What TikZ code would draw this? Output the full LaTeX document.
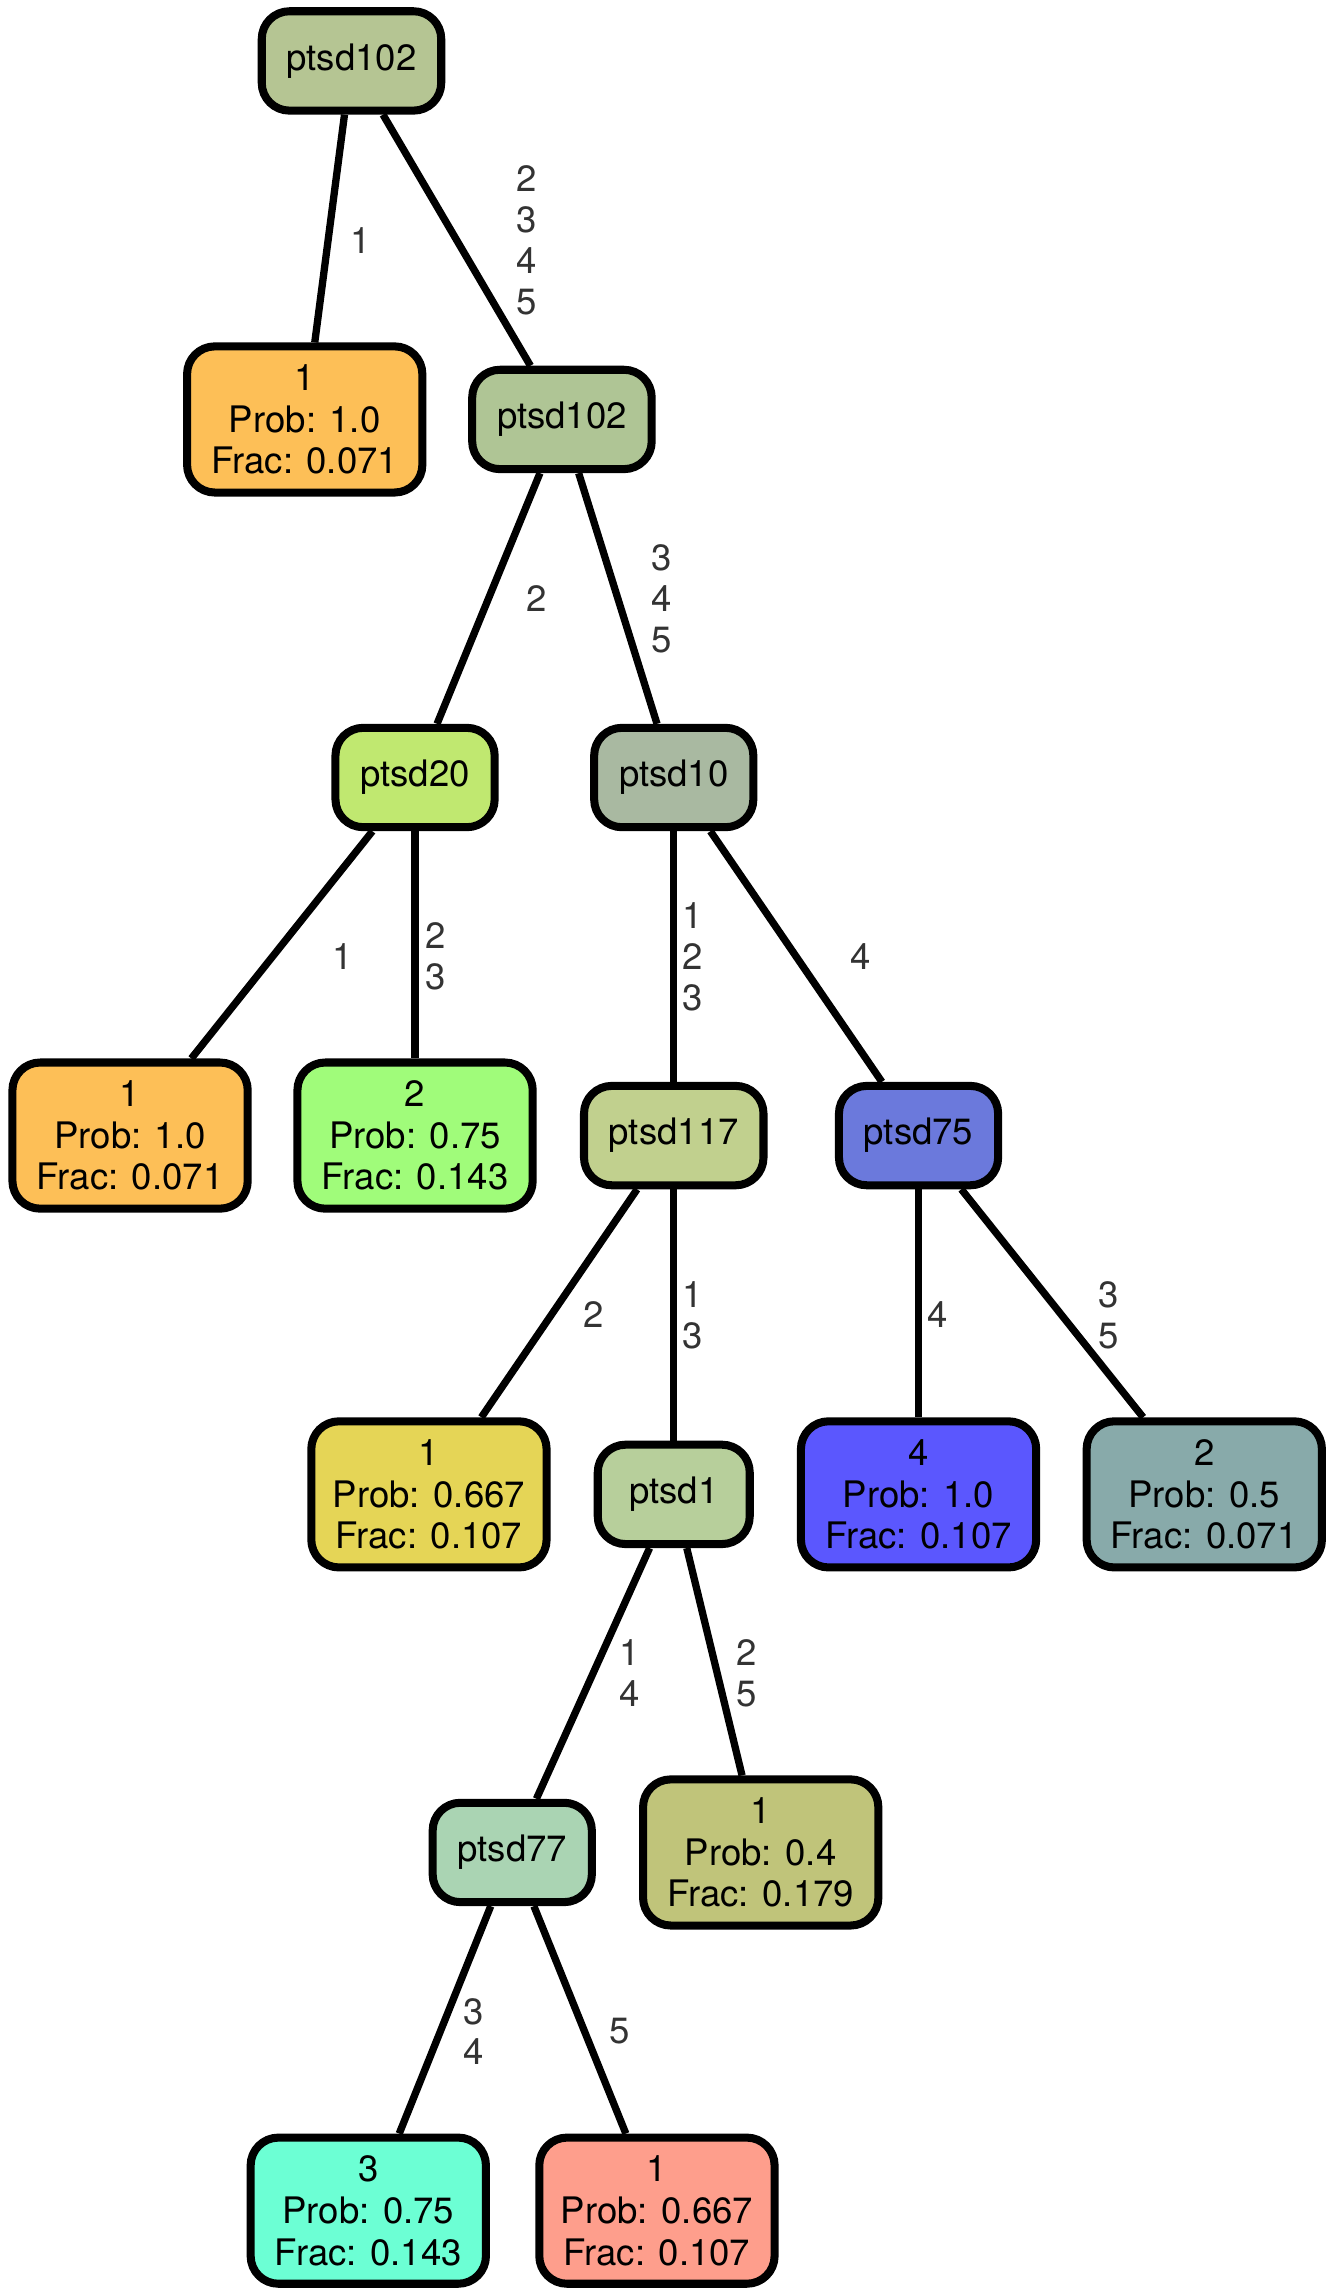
\documentclass[tikz,border=0pt]{standalone}
\usepackage{fontspec}
\setmainfont{TeX Gyre Heros}
\usepackage{tikz}
\usetikzlibrary{calc}
\usepackage{xcolor}
\definecolor{tree-root}{HTML}{b5c593}
\definecolor{tree-p102}{HTML}{afc595}
\definecolor{tree-p20}{HTML}{c0e870}
\definecolor{tree-p10}{HTML}{a9b9a1}
\definecolor{tree-p117}{HTML}{c1d08e}
\definecolor{tree-p75}{HTML}{6b79dc}
\definecolor{tree-p1}{HTML}{b7cf9b}
\definecolor{tree-p77}{HTML}{aad4b3}
\definecolor{leaf-orange}{HTML}{fdbf57}
\definecolor{leaf-green}{HTML}{a0fc7a}
\definecolor{leaf-yellow}{HTML}{e5d556}
\definecolor{leaf-blue}{HTML}{5b57fe}
\definecolor{leaf-teal}{HTML}{88aaaa}
\definecolor{leaf-olive}{HTML}{c0c47a}
\definecolor{leaf-cyan}{HTML}{6cffd4}
\definecolor{leaf-salmon}{HTML}{fe9e8c}
\definecolor{label-grey}{HTML}{333333}

\begin{document}
\begin{tikzpicture}[x=1pt, y=1pt, line join=round]
  \tikzstyle{split}=[draw, line width=5.5pt, rounded corners=19pt, minimum width=104pt, minimum height=68pt, inner xsep=17pt, font=\fontsize{25}{28.5}\selectfont]
  \tikzstyle{leaf}=[split, minimum width=161pt, minimum height=100pt, inner xsep=10pt, align=center]
  \tikzstyle{lbl}=[text=label-grey, align=center, font=\fontsize{25}{28}\selectfont]
  \useasboundingbox (0,0) rectangle (912,-1571);

  \node[split, fill=tree-root]  (r)    at (240.5,-41.7) {ptsd102};
  \node[leaf, fill=leaf-orange] (l1)   at (208.5,-287)  {1\\Prob: 1.0\\Frac: 0.071};
  \node[split, fill=tree-p102]  (p102) at (384.5,-287)  {ptsd102};
  \node[split, fill=tree-p20]   (p20)  at (284,-532)    {ptsd20};
  \node[split, fill=tree-p10]   (p10)  at (461,-532)    {ptsd10};
  \node[leaf, fill=leaf-orange] (l2)   at (89,-777)     {1\\Prob: 1.0\\Frac: 0.071};
  \node[leaf, fill=leaf-green]  (l3)   at (284,-777)    {2\\Prob: 0.75\\Frac: 0.143};
  \node[split, fill=tree-p117]  (p117) at (461,-777)    {ptsd117};
  \node[split, fill=tree-p75]   (p75)  at (628.5,-777)  {ptsd75};
  \node[leaf, fill=leaf-yellow] (l4)   at (293.5,-1022.5) {1\\Prob: 0.667\\Frac: 0.107};
  \node[split, fill=tree-p1]    (p1)   at (461,-1022.5) {ptsd1};
  \node[leaf, fill=leaf-blue]   (l5)   at (628.5,-1022.5) {4\\Prob: 1.0\\Frac: 0.107};
  \node[leaf, fill=leaf-teal]   (l6)   at (824,-1022.5) {2\\Prob: 0.5\\Frac: 0.071};
  \node[split, fill=tree-p77]   (p77)  at (350.5,-1267.5) {ptsd77};
  \node[leaf, fill=leaf-olive]  (l7)   at (520.5,-1267.5) {1\\Prob: 0.4\\Frac: 0.179};
  \node[leaf, fill=leaf-cyan]   (l8)   at (252,-1512.6) {3\\Prob: 0.75\\Frac: 0.143};
  \node[leaf, fill=leaf-salmon] (l9)   at (449.5,-1512.6) {1\\Prob: 0.667\\Frac: 0.107};

  %% branches
  \path[draw, line width=5pt]
  (r)    edge (l1)
  (r)    edge (p102)
  (p102) edge (p20)
  (p102) edge (p10)
  (p20)  edge (l2)
  (p20)  edge (l3)
  (p10)  edge (p117)
  (p10)  edge (p75)
  (p117) edge (l4)
  (p117) edge (p1)
  (p75)  edge (l5)
  (p75)  edge (l6)
  (p1)   edge (p77)
  (p1)   edge (l7)
  (p77)  edge (l8)
  (p77)  edge (l9);

  %% branch labels
  \node[lbl, xshift=22pt]   (e1)  at ($(r)!.5!(l1)$)      {1};
  \node[lbl, xshift=48pt]   (e2)  at ($(r)!.5!(p102)$)    {2\\3\\4\\5};
  \node[lbl, xshift=33pt]   (e3)  at ($(p102)!.5!(p20)$)  {2};
  \node[lbl, xshift=30pt]   (e4)  at ($(p102)!.5!(p10)$)  {3\\4\\5};
  \node[lbl, xshift=48pt]   (e5)  at ($(p20)!.5!(l2)$)    {1};
  \node[lbl, xshift=14pt]   (e6)  at ($(p20)!.5!(l3)$)    {2\\3};
  \node[lbl, xshift=13pt]   (e7)  at ($(p10)!.5!(p117)$)  {1\\2\\3};
  \node[lbl, xshift=44pt]   (e8)  at ($(p10)!.5!(p75)$)   {4};
  \node[lbl, xshift=29pt]   (e9)  at ($(p117)!.5!(l4)$)   {2};
  \node[lbl, xshift=13pt]   (e10) at ($(p117)!.5!(p1)$)   {1\\3};
  \node[lbl, xshift=13pt]   (e11) at ($(p75)!.5!(l5)$)    {4};
  \node[lbl, xshift=32pt]   (e12) at ($(p75)!.5!(l6)$)    {3\\5};
  \node[lbl, xshift=25pt]   (e13) at ($(p1)!.5!(p77)$)    {1\\4};
  \node[lbl, xshift=20pt]   (e14) at ($(p1)!.5!(l7)$)     {2\\5};
  \node[lbl, xshift=23pt]   (e15) at ($(p77)!.5!(l8)$)    {3\\4};
  \node[lbl, xshift=24pt]   (e16) at ($(p77)!.5!(l9)$)    {5};
\end{tikzpicture}
\end{document}
